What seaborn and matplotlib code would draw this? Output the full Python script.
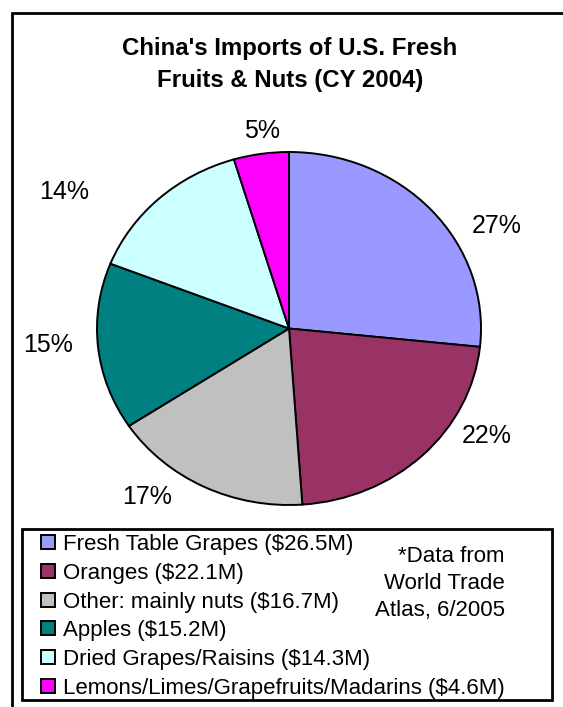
import matplotlib
matplotlib.use("Agg")
import matplotlib.pyplot as plt
from matplotlib.patches import Rectangle
import seaborn as sns

# data ($ millions)
items = ["Fresh Table Grapes", "Oranges", "Other: mainly nuts", "Apples",
         "Dried Grapes/Raisins", "Lemons/Limes/Grapefruits/Madarins"]
values = [26.5, 22.1, 16.7, 15.2, 14.3, 4.6]
colors = ["#9999FF", "#993366", "#C0C0C0", "#008080", "#CCFFFF", "#FF00FF"]

sns.set_theme(style="white")
plt.rcParams["font.family"] = ["Liberation Sans", "DejaVu Sans"]
plt.rcParams["text.color"] = "black"

W, H = 563, 707
fig = plt.figure(figsize=(W / 100, H / 100), dpi=100)

# pie is a bit wider than tall, like the Excel original
ax = fig.add_axes([97 / W, (H - 505) / H, 384 / W, 353 / H])
wedges, texts, autotexts = ax.pie(
    values, colors=sns.color_palette(colors), startangle=90, counterclock=False,
    autopct="%1.0f%%", pctdistance=1.2,
    wedgeprops=dict(edgecolor="black", linewidth=1.4),
    textprops=dict(fontsize=18, color="black"),
)
ax.set_aspect("auto")
ax.set_xlim(-1, 1)
ax.set_ylim(-1, 1)
ax.axis("off")

# Excel places the outside labels a little off the slice middles
label_xy = [(1.08, 0.58), (1.03, -0.61), (-0.74, -0.955),
            (-1.255, -0.096), (-1.17, 0.774), (-0.14, 1.12)]
for t, xy in zip(autotexts, label_xy):
    t.set_position(xy)

fig.text(290 / W, 1 - 64.5 / H, "China's Imports of U.S. Fresh\nFruits & Nuts (CY 2004)",
         ha="center", va="center", fontsize=17.3, fontweight="bold", linespacing=1.5)

# outer frame (runs off the right and bottom edges)
fig.patches.append(Rectangle((12 / W, -0.05), 1.1, 1 - 13 / H + 0.05,
                             transform=fig.transFigure, fill=False,
                             edgecolor="black", linewidth=2))
# legend box
fig.patches.append(Rectangle((22 / W, 1 - 700 / H), 530 / W, 171 / H,
                             transform=fig.transFigure, fill=False,
                             edgecolor="black", linewidth=2))

labels = [f"{n} (${v}M)" for n, v in zip(items, values)]
fig.legend(wedges, labels, loc="upper left", bbox_to_anchor=(39 / W, 1 - 532 / H),
           frameon=False, fontsize=16, handlelength=0.6, handleheight=0.6,
           handletextpad=0.4, labelspacing=0.345, borderaxespad=0, borderpad=0.1)

fig.text(505 / W, 1 - 583.5 / H, "*Data from\nWorld Trade\nAtlas, 6/2005",
         ha="right", va="center", fontsize=16, linespacing=1.36)

fig.savefig("out.png", dpi=100)
